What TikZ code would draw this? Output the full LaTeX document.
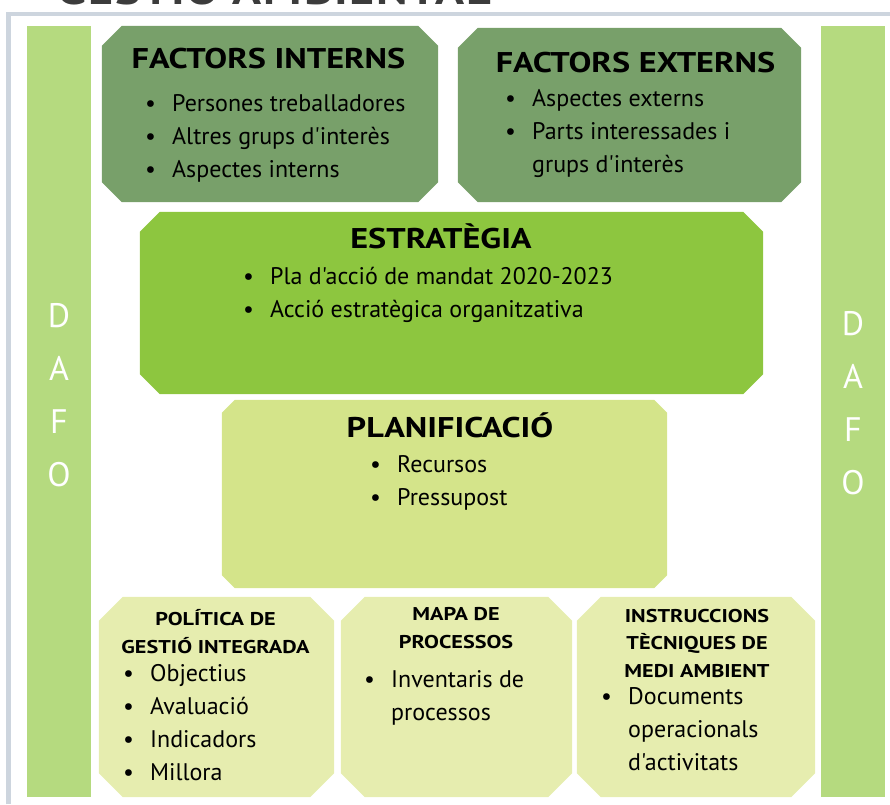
\documentclass[tikz,border=0pt]{standalone}
\usepackage{fontspec}
\setmainfont{PT Sans}[Ligatures=TeXOff]
\newfontfamily\titolfont{PT Sans}[FakeStretch=1.2, Ligatures=TeXOff]
\usetikzlibrary{positioning}
\definecolor{verdFosc}{HTML}{78A06A}
\definecolor{verdViu}{HTML}{8DC63F}
\definecolor{verdPla}{HTML}{D4E48A}
\definecolor{verdPal}{HTML}{E6EDAF}
\definecolor{verdBarra}{HTML}{B5DA7F}
\definecolor{grisMarc}{HTML}{CDD5DE}
\definecolor{grisTitol}{HTML}{3C3C3C}
\newcommand{\punt}{\makebox[27pt][l]{\textbullet}}
\newcommand{\sagnat}{\hspace*{27pt}}
% caixa amb cantonades xamfranades: node, mida del xamfra, color
\newcommand{\xamfra}[3]{%
  \fill[#3] ([xshift=#2]#1.north west) -- ([xshift=-#2]#1.north east)
    -- ([yshift=-#2]#1.north east) -- ([yshift=#2]#1.south east)
    -- ([xshift=-#2]#1.south east) -- ([xshift=#2]#1.south west)
    -- ([yshift=#2]#1.south west) -- ([yshift=-#2]#1.north west) -- cycle;}
\tikzset{
  caixa/.style={rectangle, draw=none, inner sep=0pt},
  barra/.style={rectangle, fill=verdBarra, minimum width=64pt,
    minimum height=771pt, inner sep=0pt, anchor=north west},
  lletres/.style={font=\fontsize{34}{53}\selectfont, text=white,
    align=center, inner sep=0pt},
  titol/.style={font=\titolfont\fontsize{28.5}{30}\selectfont\bfseries,
    inner sep=0pt, anchor=base},
  subtitol/.style={font=\titolfont\fontsize{18.5}{27.5}\selectfont\bfseries,
    align=center, inner sep=0pt, anchor=base},
  llista/.style={font=\fontsize{24}{32.7}\selectfont, align=left,
    inner sep=0pt, anchor=base west}
}

\begin{document}
\begin{tikzpicture}[x=1pt, y=-1pt]
  \useasboundingbox (0,0) rectangle (890,804);
  \clip (0,0) rectangle (890,804);

  % --- Marc i titol (tallat a dalt)
  \node[anchor=base west, inner sep=0pt, text=grisTitol,
        font=\titolfont\fontsize{40}{40}\selectfont\bfseries\addfontfeature{LetterSpace=4.5}]
        (titol) at (57,4) {GESTIÓ AMBIENTAL};
  \draw[grisMarc, line width=4.5pt] (8.5,804) |- (890,14);

  % --- Barres DAFO
  \node[barra] (barraE) at (27,26) {};
  \node[barra] (barraD) at (821,26) {};
  \node[lletres] (dafoE) at (59,395) {D\\A\\F\\O};
  \node[lletres] (dafoD) at (853,403) {D\\A\\F\\O};

  % --- Caixes
  \node[caixa, minimum width=336pt, minimum height=176pt] (fi) at (270,114) {};
  \node[caixa, minimum width=343pt, minimum height=174pt] (fe) at (629.5,115) {};
  \node[caixa, minimum width=623pt, minimum height=182pt] (est) at (451.5,303) {};
  \node[caixa, minimum width=445pt, minimum height=188pt] (plan) at (444.5,494) {};
  \foreach \nom/\cx/\amp in {pol/216.5/235, mapa/456.5/231, instr/696/238}
    \node[caixa, minimum width=\amp pt, minimum height=200pt] (\nom) at (\cx,697) {};

  \xamfra{fi}{20pt}{verdFosc}
  \xamfra{fe}{20pt}{verdFosc}
  \xamfra{est}{20pt}{verdViu}
  \xamfra{plan}{13pt}{verdPla}
  \foreach \nom in {pol, mapa, instr}
    {\xamfra{\nom}{24pt}{verdPal}}

  % --- Factors
  \node[titol] (fiT) at (268.5,68) {FACTORS INTERNS};
  \node[titol] (feT) at (635.5,72) {FACTORS EXTERNS};
  \node[llista] (fiL) at (145,177) {\punt Persones treballadores\\
    \punt Altres grups d'interès\\ \punt Aspectes interns};
  \node[llista] (feL) at (505,172) {\punt Aspectes externs\\
    \punt Parts interessades i\\ \sagnat grups d'interès};

  % --- Estrategia i planificacio
  \node[titol] (estT) at (441,248) {ESTRATÈGIA};
  \node[llista] (estL) at (243,317) {\punt Pla d'acció de mandat 2020-2023\\
    \punt Acció estratègica organitzativa};
  \node[titol] (planT) at (450,437) {PLANIFICACIÓ};
  \node[llista] (planL) at (370,505) {\punt Recursos\\ \punt Pressupost};

  % --- Fila de baix
  \node[subtitol] (polT) at (215.5,653) {POLÍTICA DE\\GESTIÓ INTEGRADA};
  \node[llista] (polL) at (123,780) {\punt Objectius\\ \punt Avaluació\\
    \punt Indicadors\\ \punt Millora};
  \node[subtitol] (mapaT) at (456,648) {MAPA DE\\PROCESSOS};
  \node[llista] (mapaL) at (364,720) {\punt Inventaris de\\ \sagnat processos};
  \node[subtitol] (instrT) at (697,677) {INSTRUCCIONS\\TÈCNIQUES DE\\MEDI AMBIENT};
  \node[llista] (instrL) at (601,770) {\punt Documents\\ \sagnat operacionals\\
    \sagnat d'activitats};

\end{tikzpicture}
\end{document}
